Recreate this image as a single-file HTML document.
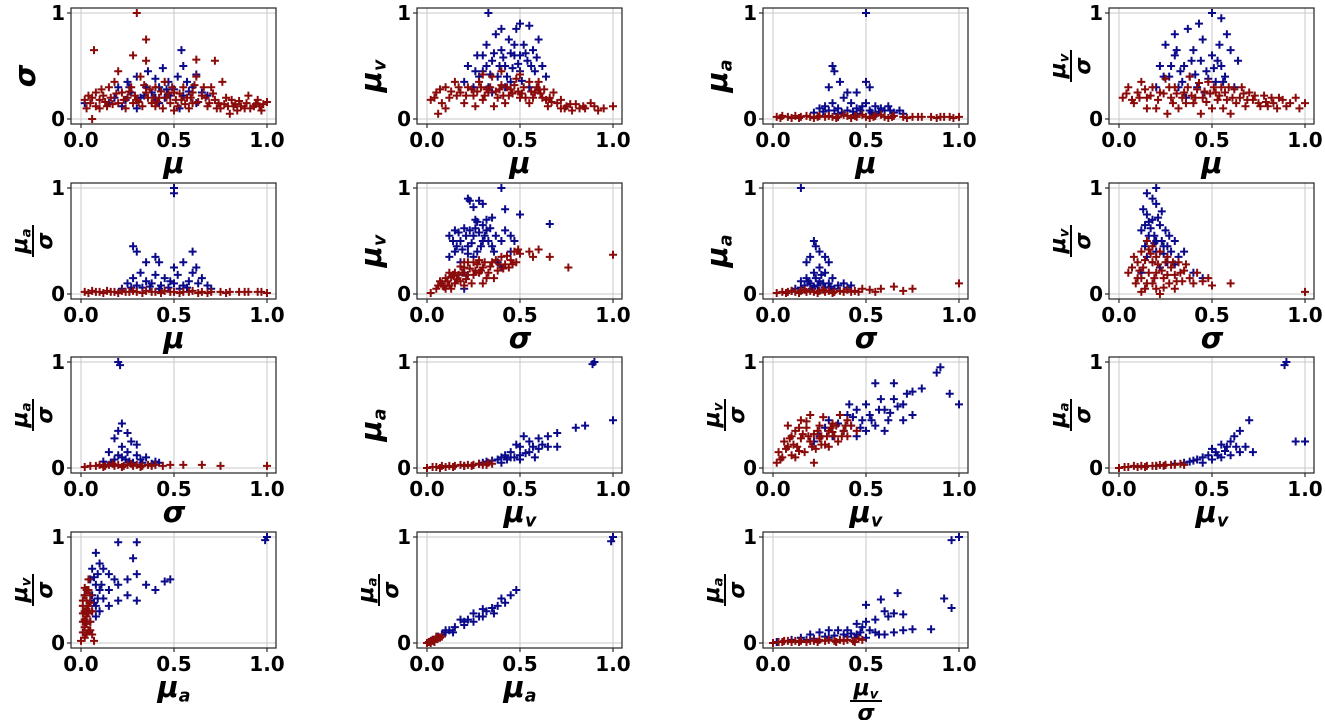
<!DOCTYPE html>
<html><head><meta charset="utf-8"><style>
body{margin:0;background:#fff;}
svg{display:block;font-family:"DejaVu Sans","Liberation Sans",sans-serif;}
.tk{font-size:20px;font-weight:bold;fill:#000;}
.lb{font-size:29px;font-weight:bold;font-style:italic;fill:#000;}
.fr{font-size:22px;font-weight:bold;font-style:italic;fill:#000;}
</style></head><body>
<svg id="fig" width="1325" height="720" viewBox="0 0 1325 720"></svg>
<script>
const xLabels=["μ","μ","μ","μ","μ","σ","σ","σ","σ","μv","μv","μv","μa","μa","μv/σ"];
const yLabels=["σ","μv","μa","μv/σ","μa/σ","μv","μa","μv/σ","μa/σ","μa","μv/σ","μa/σ","μv/σ","μa/σ","μa/σ"];
const xTicks=[0,0.5,1];
const xTickText=["0.0","0.5","1.0"];
const yTicks=[0,1];
const yTickText=["0","1"];
const redPts=[
[[0.3,1],[0.35,0.75],[0.07,0.65],[0.28,0.6],[0.72,0.55],[0.35,0.55],[0.62,0.56],[0.03,0.1],[0.05,0.15],[0.06,0.2],[0.08,0.25],[0.1,0.18],[0.12,0.22],[0.15,0.3],[0.18,0.35],[0.2,0.15],[0.22,0.25],[0.25,0.2],[0.27,0.3],[0.3,0.18],[0.32,0.4],[0.35,0.25],[0.38,0.15],[0.4,0.3],[0.42,0.2],[0.45,0.35],[0.48,0.15],[0.5,0.25],[0.52,0.12],[0.55,0.3],[0.57,0.2],[0.6,0.15],[0.62,0.4],[0.65,0.22],[0.68,0.12],[0.7,0.3],[0.72,0.18],[0.75,0.1],[0.78,0.2],[0.8,0.05],[0.82,0.12],[0.85,0.17],[0.88,0.1],[0.9,0.22],[0.93,0.12],[0.95,0.18],[0.97,0.08],[1,0.16],[0.06,0.0],[0.1,0.1],[0.14,0.12],[0.24,0.1],[0.33,0.12],[0.44,0.1],[0.58,0.1],[0.66,0.3],[0.76,0.35],[0.74,0.15],[0.84,0.08],[0.2,0.45],[0.46,0.2],[0.54,0.18],[0.36,0.2],[0.28,0.15],[0.16,0.2],[0.02,0.18],[0.6,0.25],[0.4,0.12],[0.5,0.08],[0.7,0.3],[0.04,0.22],[0.08,0.12],[0.11,0.28],[0.13,0.16],[0.17,0.14],[0.19,0.24],[0.23,0.18],[0.26,0.26],[0.29,0.22],[0.31,0.16],[0.34,0.32],[0.37,0.28],[0.39,0.2],[0.41,0.16],[0.43,0.26],[0.47,0.24],[0.49,0.3],[0.51,0.18],[0.53,0.24],[0.56,0.14],[0.59,0.2],[0.61,0.32],[0.63,0.16],[0.67,0.2],[0.69,0.15],[0.71,0.24],[0.73,0.1],[0.77,0.14],[0.79,0.12],[0.81,0.18],[0.83,0.14],[0.86,0.12],[0.89,0.15],[0.91,0.1],[0.94,0.14],[0.96,0.12],[0.98,0.14]],
[[0.02,0.18],[0.05,0.25],[0.08,0.15],[0.1,0.3],[0.12,0.2],[0.15,0.35],[0.18,0.25],[0.2,0.15],[0.22,0.3],[0.25,0.22],[0.28,0.35],[0.3,0.18],[0.32,0.28],[0.35,0.4],[0.38,0.2],[0.4,0.32],[0.42,0.15],[0.45,0.28],[0.48,0.38],[0.5,0.2],[0.52,0.3],[0.55,0.15],[0.58,0.25],[0.6,0.35],[0.62,0.2],[0.65,0.12],[0.68,0.25],[0.7,0.15],[0.72,0.1],[0.75,0.12],[0.78,0.08],[0.8,0.14],[0.85,0.1],[0.9,0.12],[0.95,0.1],[1,0.12],[0.06,0.05],[0.1,0.1],[0.3,0.42],[0.4,0.45],[0.5,0.42],[0.55,0.35],[0.33,0.25],[0.44,0.22],[0.36,0.12],[0.26,0.12],[0.16,0.22],[0.6,0.28],[0.66,0.2],[0.72,0.18],[0.82,0.1],[0.88,0.15],[0.04,0.2],[0.07,0.28],[0.13,0.26],[0.17,0.3],[0.21,0.22],[0.24,0.28],[0.27,0.26],[0.29,0.3],[0.31,0.22],[0.34,0.3],[0.37,0.26],[0.39,0.28],[0.41,0.22],[0.43,0.3],[0.46,0.24],[0.47,0.32],[0.49,0.26],[0.51,0.24],[0.53,0.2],[0.56,0.26],[0.57,0.2],[0.59,0.3],[0.61,0.24],[0.63,0.28],[0.64,0.18],[0.67,0.16],[0.74,0.1],[0.77,0.14],[0.84,0.12],[0.92,0.08]],
[[0.02,0.02],[0.05,0.03],[0.08,0.02],[0.1,0.01],[0.12,0.03],[0.15,0.02],[0.18,0.03],[0.2,0.02],[0.22,0.01],[0.25,0.03],[0.28,0.02],[0.3,0.03],[0.35,0.02],[0.4,0.03],[0.45,0.02],[0.5,0.02],[0.55,0.03],[0.6,0.02],[0.65,0.03],[0.7,0.02],[0.75,0.02],[0.8,0.02],[0.85,0.02],[0.9,0.02],[0.95,0.02],[1,0.02],[0.32,0.02],[0.42,0.01],[0.52,0.01],[0.62,0.01],[0.38,0.04],[0.48,0.04],[0.58,0.04],[0.04,0.01],[0.14,0.01],[0.24,0.02],[0.34,0.01],[0.44,0.03],[0.54,0.02],[0.64,0.02],[0.72,0.01],[0.78,0.02],[0.88,0.01],[0.92,0.02],[0.97,0.01]],
[[0.02,0.2],[0.05,0.3],[0.08,0.15],[0.1,0.25],[0.12,0.35],[0.15,0.2],[0.18,0.3],[0.2,0.1],[0.22,0.25],[0.25,0.38],[0.28,0.2],[0.3,0.3],[0.32,0.1],[0.35,0.25],[0.38,0.4],[0.4,0.15],[0.42,0.28],[0.45,0.2],[0.48,0.35],[0.5,0.1],[0.52,0.25],[0.55,0.3],[0.58,0.18],[0.6,0.05],[0.62,0.28],[0.65,0.2],[0.68,0.12],[0.7,0.25],[0.72,0.18],[0.75,0.15],[0.78,0.22],[0.8,0.12],[0.82,0.2],[0.85,0.1],[0.88,0.18],[0.9,0.12],[0.95,0.2],[0.97,0.1],[1,0.15],[0.26,0.05],[0.44,0.05],[0.36,0.15],[0.56,0.1],[0.66,0.3],[0.15,0.1],[0.04,0.24],[0.07,0.18],[0.11,0.2],[0.14,0.28],[0.17,0.22],[0.21,0.18],[0.24,0.24],[0.27,0.3],[0.29,0.15],[0.31,0.24],[0.34,0.2],[0.37,0.3],[0.39,0.22],[0.41,0.2],[0.43,0.34],[0.46,0.26],[0.47,0.16],[0.49,0.24],[0.51,0.3],[0.53,0.18],[0.54,0.22],[0.57,0.25],[0.59,0.3],[0.61,0.2],[0.63,0.15],[0.67,0.24],[0.69,0.18],[0.73,0.22],[0.76,0.12],[0.79,0.16],[0.83,0.15],[0.86,0.2],[0.92,0.15]],
[[0.02,0.02],[0.06,0.03],[0.1,0.02],[0.14,0.03],[0.18,0.02],[0.22,0.03],[0.26,0.02],[0.3,0.02],[0.35,0.03],[0.4,0.02],[0.45,0.03],[0.5,0.02],[0.55,0.02],[0.6,0.03],[0.65,0.02],[0.7,0.02],[0.75,0.02],[0.8,0.02],[0.85,0.02],[0.9,0.02],[0.95,0.02],[1,0.01],[0.33,0.01],[0.43,0.01],[0.53,0.01],[0.63,0.01],[0.04,0.01],[0.08,0.02],[0.12,0.01],[0.16,0.02],[0.2,0.01],[0.24,0.02],[0.28,0.03],[0.38,0.02],[0.48,0.02],[0.58,0.02],[0.68,0.01],[0.78,0.01],[0.88,0.02],[0.97,0.02]],
[[0.02,0.01],[0.05,0.05],[0.08,0.1],[0.1,0.15],[0.12,0.08],[0.15,0.2],[0.18,0.12],[0.2,0.25],[0.22,0.18],[0.25,0.3],[0.28,0.2],[0.3,0.25],[0.32,0.15],[0.35,0.3],[0.38,0.22],[0.4,0.35],[0.42,0.28],[0.45,0.32],[0.47,0.4],[0.5,0.38],[0.55,0.4],[0.57,0.35],[0.6,0.42],[0.66,0.35],[0.76,0.25],[1,0.37],[0.36,0.15],[0.44,0.25],[0.13,0.05],[0.06,0.08],[0.24,0.1],[0.3,0.1],[0.2,0.08],[0.16,0.14],[0.26,0.22],[0.34,0.26],[0.1,0.05],[0.48,0.3],[0.14,0.18],[0.22,0.3],[0.07,0.12],[0.09,0.07],[0.11,0.12],[0.13,0.16],[0.15,0.1],[0.17,0.18],[0.19,0.2],[0.21,0.14],[0.23,0.24],[0.25,0.18],[0.27,0.28],[0.29,0.22],[0.31,0.3],[0.33,0.2],[0.37,0.32],[0.39,0.28],[0.41,0.24],[0.43,0.36],[0.46,0.28],[0.49,0.42],[0.18,0.26],[0.28,0.32],[0.12,0.2],[0.2,0.3]],
[[0.02,0.01],[0.05,0.02],[0.08,0.02],[0.1,0.03],[0.12,0.02],[0.15,0.03],[0.18,0.02],[0.2,0.03],[0.22,0.02],[0.25,0.03],[0.28,0.02],[0.3,0.03],[0.33,0.02],[0.36,0.03],[0.4,0.04],[0.44,0.03],[0.48,0.05],[0.52,0.04],[0.58,0.05],[0.65,0.07],[0.75,0.05],[1,0.1],[0.55,0.02],[0.7,0.03],[0.07,0.01],[0.14,0.01],[0.17,0.04],[0.24,0.01],[0.27,0.04],[0.32,0.01],[0.38,0.02],[0.42,0.02],[0.46,0.02]],
[[0.05,0.2],[0.08,0.35],[0.1,0.15],[0.12,0.4],[0.13,0.25],[0.15,0.5],[0.15,0.1],[0.18,0.3],[0.2,0.2],[0.2,0.05],[0.22,0.4],[0.24,0.15],[0.25,0.3],[0.27,0.1],[0.28,0.25],[0.3,0.18],[0.32,0.3],[0.34,0.12],[0.35,0.22],[0.38,0.15],[0.4,0.1],[0.42,0.2],[0.45,0.12],[0.48,0.15],[0.5,0.08],[0.6,0.1],[1,0.02],[0.12,0.02],[0.18,0.45],[0.22,0.0],[0.1,0.3],[0.26,0.35],[0.3,0.05],[0.07,0.25],[0.09,0.1],[0.11,0.22],[0.14,0.32],[0.16,0.2],[0.17,0.38],[0.19,0.15],[0.21,0.28],[0.23,0.22],[0.26,0.18],[0.29,0.3],[0.31,0.12],[0.33,0.2],[0.36,0.28],[0.14,0.05],[0.18,0.1],[0.24,0.06],[0.12,0.15],[0.2,0.35],[0.16,0.42]],
[[0.02,0.01],[0.05,0.02],[0.08,0.02],[0.1,0.03],[0.13,0.02],[0.15,0.03],[0.18,0.02],[0.2,0.03],[0.23,0.02],[0.25,0.03],[0.28,0.02],[0.3,0.03],[0.33,0.02],[0.36,0.03],[0.4,0.03],[0.44,0.02],[0.48,0.03],[0.55,0.03],[0.65,0.03],[0.75,0.02],[1,0.02],[0.12,0.01],[0.17,0.04],[0.22,0.01],[0.27,0.04],[0.32,0.01],[0.38,0.02]],
[[0.0,0.0],[0.03,0.01],[0.05,0.01],[0.08,0.02],[0.1,0.01],[0.12,0.02],[0.15,0.02],[0.18,0.03],[0.2,0.02],[0.22,0.03],[0.25,0.03],[0.28,0.04],[0.3,0.03],[0.33,0.05],[0.35,0.04],[0.07,0.0],[0.14,0.01],[0.24,0.02],[0.32,0.03]],
[[0.02,0.05],[0.03,0.15],[0.05,0.1],[0.06,0.25],[0.08,0.2],[0.1,0.3],[0.1,0.12],[0.12,0.35],[0.13,0.2],[0.15,0.28],[0.15,0.45],[0.17,0.15],[0.18,0.38],[0.2,0.25],[0.2,0.5],[0.22,0.32],[0.23,0.18],[0.25,0.4],[0.25,0.28],[0.27,0.48],[0.28,0.22],[0.3,0.35],[0.3,0.2],[0.32,0.42],[0.33,0.3],[0.35,0.25],[0.36,0.5],[0.38,0.35],[0.4,0.3],[0.4,0.45],[0.42,0.4],[0.45,0.35],[0.08,0.4],[0.22,0.05],[0.12,0.1],[0.04,0.08],[0.07,0.18],[0.09,0.28],[0.11,0.22],[0.14,0.16],[0.16,0.32],[0.19,0.3],[0.21,0.2],[0.24,0.35],[0.26,0.22],[0.29,0.3],[0.31,0.38],[0.34,0.4],[0.37,0.3],[0.39,0.4],[0.14,0.38],[0.18,0.44],[0.26,0.3],[0.32,0.34]],
[[0.0,0.0],[0.03,0.01],[0.05,0.01],[0.08,0.02],[0.1,0.01],[0.12,0.02],[0.15,0.02],[0.18,0.02],[0.2,0.02],[0.22,0.03],[0.25,0.03],[0.28,0.03],[0.3,0.03],[0.33,0.04],[0.35,0.03],[0.14,0.01],[0.24,0.02]],
[[0.0,0.02],[0.01,0.1],[0.01,0.2],[0.02,0.3],[0.02,0.05],[0.02,0.15],[0.03,0.25],[0.03,0.4],[0.03,0.5],[0.04,0.35],[0.04,0.12],[0.04,0.6],[0.05,0.2],[0.05,0.45],[0.06,0.3],[0.06,0.08],[0.07,0.02],[0.01,0.35],[0.02,0.45],[0.03,0.18],[0.01,0.28],[0.02,0.22],[0.03,0.32],[0.04,0.28],[0.05,0.38],[0.01,0.4],[0.02,0.52],[0.04,0.5],[0.05,0.12],[0.03,0.08]],
[[0.0,0.0],[0.01,0.01],[0.02,0.02],[0.03,0.02],[0.04,0.03],[0.05,0.04],[0.06,0.05],[0.07,0.05],[0.08,0.06],[0.02,0.0],[0.04,0.01],[0.05,0.06]],
[[0.0,0.0],[0.03,0.01],[0.05,0.01],[0.08,0.02],[0.1,0.01],[0.12,0.02],[0.15,0.02],[0.18,0.01],[0.2,0.02],[0.22,0.02],[0.25,0.03],[0.28,0.02],[0.3,0.03],[0.33,0.02],[0.36,0.03],[0.4,0.03],[0.43,0.02],[0.46,0.04],[0.48,0.03],[0.06,0.02],[0.14,0.01],[0.24,0.01],[0.34,0.01],[0.38,0.02],[0.44,0.01]]
];
const bluePts=[
[[0.54,0.65],[0.55,0.5],[0.02,0.15],[0.15,0.15],[0.18,0.2],[0.2,0.3],[0.22,0.12],[0.25,0.35],[0.27,0.25],[0.3,0.4],[0.32,0.2],[0.35,0.3],[0.38,0.25],[0.4,0.38],[0.42,0.3],[0.44,0.48],[0.45,0.2],[0.47,0.35],[0.5,0.28],[0.52,0.4],[0.55,0.22],[0.57,0.35],[0.6,0.3],[0.62,0.42],[0.65,0.25],[0.68,0.22],[0.3,0.1],[0.42,0.15],[0.53,0.1],[0.62,0.15],[0.24,0.18],[0.36,0.45],[0.26,0.3],[0.34,0.22],[0.46,0.28],[0.48,0.22],[0.58,0.26],[0.4,0.2]],
[[0.33,1.0],[0.5,0.9],[0.55,0.88],[0.2,0.35],[0.22,0.5],[0.25,0.3],[0.27,0.6],[0.3,0.45],[0.32,0.7],[0.33,0.3],[0.35,0.55],[0.37,0.8],[0.38,0.4],[0.4,0.65],[0.42,0.5],[0.44,0.75],[0.45,0.35],[0.47,0.6],[0.48,0.85],[0.5,0.45],[0.52,0.7],[0.54,0.55],[0.55,0.3],[0.57,0.65],[0.58,0.45],[0.6,0.75],[0.62,0.5],[0.64,0.4],[0.35,0.25],[0.42,0.3],[0.28,0.4],[0.5,0.6],[0.46,0.48],[0.4,0.85],[0.3,0.6],[0.26,0.45],[0.34,0.42],[0.36,0.62],[0.39,0.5],[0.43,0.4],[0.45,0.62],[0.49,0.52],[0.51,0.36],[0.53,0.62],[0.56,0.5],[0.59,0.58],[0.32,0.5],[0.41,0.58],[0.47,0.7]],
[[0.5,1.0],[0.32,0.5],[0.33,0.45],[0.36,0.35],[0.3,0.3],[0.45,0.25],[0.5,0.35],[0.52,0.3],[0.25,0.1],[0.28,0.12],[0.3,0.08],[0.32,0.15],[0.35,0.1],[0.38,0.2],[0.4,0.08],[0.42,0.15],[0.45,0.1],[0.48,0.12],[0.5,0.15],[0.52,0.08],[0.55,0.12],[0.58,0.1],[0.6,0.08],[0.62,0.12],[0.65,0.06],[0.68,0.08],[0.7,0.05],[0.22,0.06],[0.35,0.05],[0.45,0.05],[0.55,0.05],[0.4,0.25],[0.27,0.07],[0.33,0.08],[0.37,0.06],[0.43,0.07],[0.47,0.08],[0.53,0.06],[0.57,0.07],[0.63,0.08]],
[[0.5,1.0],[0.55,0.95],[0.3,0.8],[0.2,0.3],[0.22,0.5],[0.25,0.7],[0.27,0.4],[0.3,0.6],[0.32,0.3],[0.35,0.5],[0.37,0.85],[0.38,0.4],[0.4,0.65],[0.42,0.3],[0.44,0.55],[0.45,0.75],[0.47,0.45],[0.5,0.6],[0.52,0.35],[0.54,0.7],[0.55,0.5],[0.57,0.4],[0.6,0.65],[0.62,0.3],[0.64,0.55],[0.36,0.2],[0.46,0.25],[0.33,0.45],[0.43,0.9],[0.58,0.8],[0.28,0.5],[0.34,0.35],[0.39,0.55],[0.41,0.42],[0.48,0.38],[0.51,0.48],[0.53,0.55],[0.56,0.35],[0.24,0.4],[0.31,0.65]],
[[0.5,1.0],[0.5,0.95],[0.28,0.45],[0.3,0.4],[0.35,0.3],[0.4,0.35],[0.42,0.3],[0.5,0.25],[0.55,0.3],[0.6,0.4],[0.62,0.25],[0.25,0.1],[0.28,0.15],[0.3,0.08],[0.32,0.2],[0.35,0.12],[0.38,0.1],[0.4,0.18],[0.43,0.08],[0.45,0.15],[0.48,0.12],[0.5,0.1],[0.52,0.18],[0.55,0.08],[0.58,0.12],[0.6,0.2],[0.63,0.1],[0.65,0.15],[0.68,0.08],[0.7,0.05],[0.22,0.05],[0.27,0.06],[0.33,0.06],[0.37,0.07],[0.42,0.05],[0.47,0.06],[0.53,0.05],[0.57,0.06]],
[[0.4,1.0],[0.22,0.9],[0.23,0.88],[0.28,0.88],[0.25,0.82],[0.3,0.85],[0.42,0.8],[0.5,0.75],[0.66,0.66],[0.32,0.7],[0.35,0.72],[0.27,0.68],[0.12,0.55],[0.15,0.6],[0.18,0.5],[0.2,0.62],[0.22,0.45],[0.25,0.55],[0.27,0.4],[0.3,0.5],[0.32,0.6],[0.35,0.45],[0.37,0.55],[0.4,0.5],[0.42,0.6],[0.45,0.55],[0.47,0.5],[0.12,0.35],[0.15,0.4],[0.18,0.3],[0.2,0.2],[0.25,0.35],[0.38,0.3],[0.4,0.25],[0.45,0.4],[0.2,0.05],[0.16,0.45],[0.3,0.65],[0.28,0.58],[0.14,0.5],[0.17,0.58],[0.19,0.42],[0.21,0.55],[0.23,0.6],[0.24,0.48],[0.26,0.62],[0.29,0.45],[0.31,0.55],[0.33,0.5],[0.34,0.62],[0.36,0.4],[0.26,0.7],[0.22,0.38]],
[[0.15,1.0],[0.22,0.5],[0.23,0.45],[0.25,0.4],[0.2,0.35],[0.28,0.35],[0.18,0.3],[0.3,0.3],[0.25,0.25],[0.22,0.2],[0.28,0.2],[0.32,0.15],[0.15,0.12],[0.18,0.15],[0.2,0.1],[0.25,0.12],[0.3,0.1],[0.35,0.08],[0.38,0.1],[0.4,0.06],[0.42,0.08],[0.12,0.05],[0.15,0.06],[0.22,0.07],[0.28,0.06],[0.33,0.05],[0.1,0.03],[0.17,0.08],[0.21,0.05],[0.24,0.08],[0.27,0.1],[0.31,0.07],[0.19,0.12],[0.23,0.15],[0.26,0.18]],
[[0.15,0.95],[0.2,1.0],[0.18,0.9],[0.12,0.6],[0.13,0.8],[0.15,0.75],[0.16,0.55],[0.18,0.7],[0.2,0.5],[0.2,0.85],[0.22,0.65],[0.24,0.45],[0.25,0.6],[0.27,0.55],[0.28,0.4],[0.3,0.5],[0.32,0.35],[0.15,0.35],[0.18,0.3],[0.22,0.25],[0.26,0.3],[0.3,0.28],[0.35,0.4],[0.4,0.2],[0.45,0.15],[0.12,0.2],[0.14,0.45],[0.23,0.78],[0.2,0.4],[0.17,0.62],[0.19,0.55],[0.21,0.72],[0.23,0.5],[0.26,0.45],[0.16,0.68],[0.24,0.38],[0.14,0.65],[0.19,0.48]],
[[0.2,1.0],[0.21,0.97],[0.22,0.42],[0.2,0.35],[0.25,0.33],[0.18,0.28],[0.27,0.25],[0.22,0.2],[0.3,0.22],[0.15,0.15],[0.2,0.12],[0.25,0.15],[0.3,0.12],[0.35,0.1],[0.4,0.06],[0.12,0.06],[0.18,0.08],[0.24,0.08],[0.28,0.05],[0.33,0.05],[0.38,0.04],[0.42,0.05],[0.16,0.05],[0.22,0.1],[0.26,0.06],[0.32,0.08]],
[[0.9,1.0],[0.89,0.98],[1.0,0.45],[0.85,0.4],[0.8,0.38],[0.7,0.33],[0.65,0.3],[0.6,0.28],[0.55,0.25],[0.52,0.3],[0.5,0.2],[0.48,0.22],[0.45,0.15],[0.42,0.12],[0.4,0.1],[0.38,0.08],[0.35,0.07],[0.32,0.06],[0.3,0.05],[0.28,0.04],[0.25,0.03],[0.2,0.02],[0.45,0.1],[0.5,0.12],[0.55,0.15],[0.6,0.18],[0.65,0.2],[0.4,0.05],[0.5,0.08],[0.58,0.1],[0.7,0.2],[0.43,0.08],[0.47,0.1],[0.53,0.14],[0.57,0.2],[0.62,0.22]],
[[0.9,0.95],[0.88,0.9],[0.95,0.7],[1.0,0.6],[0.8,0.75],[0.75,0.72],[0.7,0.6],[0.65,0.65],[0.6,0.55],[0.55,0.8],[0.52,0.5],[0.5,0.6],[0.48,0.45],[0.45,0.55],[0.42,0.4],[0.4,0.5],[0.38,0.35],[0.35,0.42],[0.32,0.3],[0.3,0.45],[0.28,0.38],[0.25,0.3],[0.22,0.25],[0.45,0.3],[0.55,0.4],[0.6,0.35],[0.7,0.45],[0.65,0.8],[0.5,0.35],[0.58,0.65],[0.75,0.5],[0.62,0.45],[0.43,0.48],[0.47,0.38],[0.53,0.45],[0.57,0.55],[0.63,0.52],[0.67,0.58],[0.72,0.7],[0.41,0.6],[0.36,0.5]],
[[0.9,1.0],[0.89,0.97],[0.95,0.25],[1.0,0.25],[0.7,0.45],[0.65,0.35],[0.62,0.3],[0.6,0.25],[0.58,0.2],[0.55,0.22],[0.52,0.15],[0.5,0.18],[0.48,0.12],[0.45,0.1],[0.42,0.08],[0.4,0.07],[0.38,0.06],[0.35,0.05],[0.3,0.04],[0.25,0.03],[0.2,0.02],[0.68,0.2],[0.72,0.15],[0.5,0.08],[0.55,0.1],[0.6,0.12],[0.65,0.15],[0.45,0.05],[0.53,0.12],[0.57,0.16],[0.63,0.2]],
[[1.0,1.0],[0.99,0.97],[0.2,0.95],[0.3,0.95],[0.08,0.85],[0.1,0.75],[0.12,0.7],[0.15,0.65],[0.05,0.6],[0.08,0.55],[0.1,0.5],[0.15,0.5],[0.2,0.55],[0.25,0.6],[0.3,0.65],[0.35,0.55],[0.4,0.5],[0.45,0.58],[0.48,0.6],[0.05,0.4],[0.08,0.35],[0.1,0.3],[0.12,0.42],[0.15,0.35],[0.2,0.4],[0.25,0.45],[0.3,0.4],[0.03,0.3],[0.05,0.2],[0.08,0.25],[0.06,0.7],[0.28,0.8],[0.18,0.6],[0.02,0.45],[0.04,0.5],[0.06,0.45],[0.07,0.38],[0.09,0.42],[0.06,0.3],[0.04,0.35],[0.07,0.62],[0.09,0.65],[0.11,0.55]],
[[1.0,1.0],[0.99,0.96],[0.48,0.5],[0.45,0.45],[0.42,0.38],[0.4,0.42],[0.38,0.35],[0.35,0.33],[0.32,0.3],[0.3,0.32],[0.28,0.25],[0.25,0.28],[0.22,0.22],[0.2,0.2],[0.18,0.22],[0.15,0.15],[0.12,0.12],[0.1,0.1],[0.08,0.08],[0.06,0.06],[0.05,0.04],[0.03,0.03],[0.1,0.12],[0.14,0.1],[0.2,0.17],[0.25,0.2],[0.3,0.25],[0.36,0.28]],
[[1.0,1.0],[0.96,0.97],[0.92,0.42],[0.96,0.33],[0.67,0.47],[0.58,0.41],[0.5,0.36],[0.6,0.3],[0.65,0.28],[0.7,0.27],[0.62,0.25],[0.55,0.22],[0.5,0.2],[0.45,0.18],[0.48,0.15],[0.4,0.12],[0.35,0.12],[0.3,0.12],[0.25,0.1],[0.2,0.08],[0.15,0.05],[0.1,0.03],[0.45,0.08],[0.4,0.06],[0.55,0.1],[0.6,0.08],[0.65,0.1],[0.7,0.12],[0.75,0.13],[0.85,0.13],[0.5,0.05],[0.3,0.05],[0.02,0.01],[0.42,0.09],[0.47,0.1],[0.52,0.12],[0.57,0.08],[0.44,0.05],[0.38,0.08],[0.33,0.07],[0.28,0.06],[0.22,0.04],[0.18,0.03]]
];
const colX0=[81,427,773,1119];
const rowY1=[13,188,362,537];
const W=186,H=106;
const NS="http://www.w3.org/2000/svg";
const svg=document.getElementById('fig');
function mk(tag,attrs,parent){const e=document.createElementNS(NS,tag);for(const k in attrs)e.setAttribute(k,attrs[k]);(parent||svg).appendChild(e);return e;}
function labelText(g,s,x,y,cls,rot){
  const t=mk('text',{x:x,y:y,class:cls,'text-anchor':'middle'},g);
  if(rot)t.setAttribute('transform','rotate(-90 '+x+' '+y+')');
  t.textContent=s[0];
  if(s.length>1){const ts=mk('tspan',{'font-size':'0.6em',dy:'0.25em'},t);ts.textContent=s.slice(1);}
  return t;
}
function axisLabel(g,s,x,y,rot,name){
  let el;
  if(s.indexOf('/')>=0){
    const parts=s.split('/');
    el=mk('g',{transform:'translate('+x+','+y+')'+(rot?' rotate(-90)':'')},g);
    labelText(el,parts[0],0,-6,'fr',false);
    mk('line',{x1:-16,x2:16,y1:0,y2:0,stroke:'#000','stroke-width':2},el);
    labelText(el,parts[1],0,19,'fr',false);
  } else {
    el=labelText(g,s,x,y+10,'lb',rot);
  }
  
  
}
for(let p=0;p<15;p++){
  const c=p%4,r=Math.floor(p/4);
  const x0=colX0[c],y0=rowY1[r]+H;
  const sx=v=>x0+v*W, sy=v=>y0-v*H;
  const g=mk('g',{});
  
  
  mk('rect',{x:x0-10,y:rowY1[r]-5,width:W+19,height:H+10,fill:'#fff',stroke:'none'},g);
  xTicks.forEach((v,i)=>{
    mk('line',{x1:sx(v),x2:sx(v),y1:rowY1[r]-5,y2:y0+5,stroke:'#c8c8c8','stroke-width':1},g);
    mk('line',{x1:sx(v),x2:sx(v),y1:y0+5,y2:y0+9,stroke:'#000','stroke-width':1},g);
    const t=mk('text',{x:sx(v),y:y0+28,class:'tk','text-anchor':'middle'},g);
    t.textContent=xTickText[i];
    
    
  });
  yTicks.forEach((v,i)=>{
    mk('line',{x1:x0-10,x2:x0+W+9,y1:sy(v),y2:sy(v),stroke:'#c8c8c8','stroke-width':1},g);
    mk('line',{x1:x0-14,x2:x0-10,y1:sy(v),y2:sy(v),stroke:'#000','stroke-width':1},g);
    const t=mk('text',{x:x0-16,y:sy(v)+7,class:'tk','text-anchor':'end'},g);
    t.textContent=yTickText[i];
    
    
  });
  [[bluePts[p],'#0a0a8a','blue'],[redPts[p],'#8b0a0a','red']].forEach(([pts,col,nm])=>{
    let d='';
    pts.forEach(([a,b])=>{const px=sx(a),py=sy(b);d+='M'+(px-4)+' '+py+'H'+(px+4)+'M'+px+' '+(py-4)+'V'+(py+4);});
    const path=mk('path',{d:d,stroke:col,'stroke-width':2,fill:'none'},g);
    
    
  });
  mk('rect',{x:x0-10,y:rowY1[r]-5,width:W+19,height:H+10,fill:'none',stroke:'#222','stroke-width':1.2},g);
  axisLabel(g,xLabels[p],x0+W/2,y0+(xLabels[p].indexOf('/')>=0?58:44),false,'x-axis-title');
  axisLabel(g,yLabels[p],x0-(yLabels[p].indexOf('/')>=0?48:46),rowY1[r]+H/2,true,'y-axis-title');
}
</script>
</body></html>
